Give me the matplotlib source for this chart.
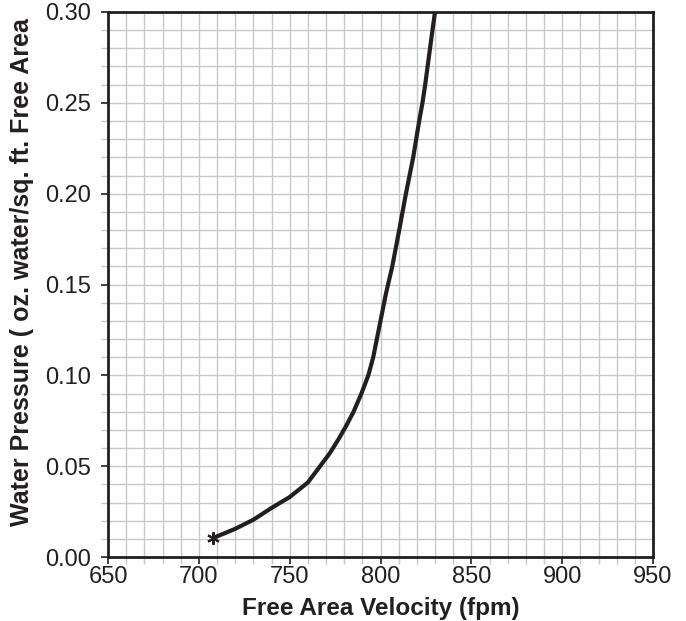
import matplotlib
matplotlib.use("Agg")
import matplotlib.pyplot as plt
from matplotlib.ticker import MultipleLocator

plt.rcParams['font.family'] = ['Liberation Sans', 'DejaVu Sans']

# Curve
velocity = [708, 720, 730, 740, 750, 760, 766, 772, 777, 781, 785.2,
            789.5, 793.3, 796, 798, 800, 803, 806.5, 810.3, 814, 818, 821.3,
            823.1, 824.6, 828.6, 830]
pressure = [0.0105, 0.0155, 0.0205, 0.027, 0.033, 0.041, 0.049, 0.057, 0.065,
            0.072, 0.08, 0.09, 0.10, 0.11, 0.12, 0.13, 0.145, 0.16, 0.18, 0.20,
            0.22, 0.24, 0.25, 0.26, 0.29, 0.30]

x_ticks = [650, 700, 750, 800, 850, 900, 950]
y_ticks = [0.00, 0.05, 0.10, 0.15, 0.20, 0.25, 0.30]

dark = '#231f20'
grid_grey = '#c8c8c8'

fig = plt.figure(figsize=(6.86, 6.21), dpi=100)
ax = fig.add_axes([108 / 686, 1 - 557 / 621, 545 / 686, 545 / 621])

ax.plot(velocity, pressure, color=dark, lw=3.0, solid_joinstyle='round',
        solid_capstyle='butt', zorder=3)
ax.plot(velocity[0], pressure[0], marker=(6, 2, 0), ms=9, mew=1.5,
        color=dark, zorder=4)

ax.set_xlim(650, 950)
ax.set_ylim(0, 0.30)
ax.set_xticks(x_ticks)
ax.set_yticks(y_ticks)
ax.set_xticklabels([str(v) for v in x_ticks])
ax.set_yticklabels([f"{v:.2f}" for v in y_ticks])
ax.xaxis.set_minor_locator(MultipleLocator(10))
ax.yaxis.set_minor_locator(MultipleLocator(0.01))

ax.grid(True, which='both', color=grid_grey, lw=1.0, zorder=0)
ax.set_axisbelow(True)

ax.tick_params(which='major', direction='out', length=5, width=1.2,
               color=dark, labelsize=17, labelcolor=dark)
ax.tick_params(which='minor', direction='out', length=5, width=1.0,
               color=grid_grey)
ax.tick_params(axis='x', which='major', pad=1.5)
ax.tick_params(axis='y', which='major', pad=7)

for s in ax.spines.values():
    s.set_color(dark)
    s.set_linewidth(2)

fig.text(381 / 686, 1 - 615 / 621, 'Free Area Velocity (fpm)',
         ha='center', va='baseline', fontsize=17.5, fontweight='bold',
         color=dark)
fig.text(22 / 686, 1 - 272 / 621, 'Water Pressure ( oz. water/sq. ft. Free Area',
         rotation=90, ha='center', va='center', fontsize=18, fontweight='bold',
         color=dark)

fig.savefig('out.png', dpi=100)
